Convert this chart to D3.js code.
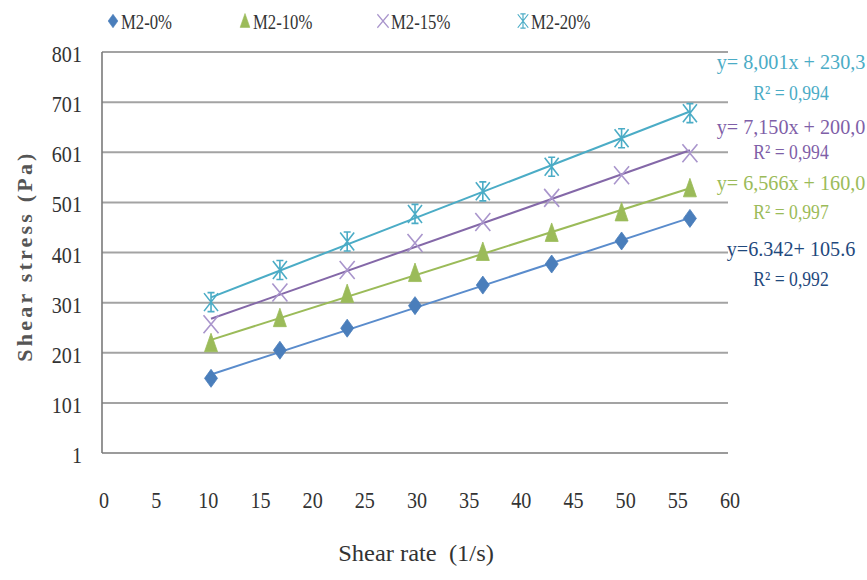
<!DOCTYPE html>
<html><head><meta charset="utf-8">
<script src="https://cdn.jsdelivr.net/npm/d3@7"></script>
<style>body{margin:0;background:#fff}svg{display:block}</style>
</head><body>
<svg id="c" width="867" height="580"></svg>
<script>
const shearRate = [10.45, 17.05, 23.5, 30.0, 36.5, 43.1, 49.8, 56.35];
const seriesNames = ["M2-0%", "M2-10%", "M2-15%", "M2-20%"];
const m2_0  = [150, 206, 250, 295, 336, 378, 424, 469];
const m2_10 = [220, 270, 318, 360, 402, 440, 481, 529];
const m2_15 = [258, 321, 366, 420, 462, 510, 555, 599];
const m2_20 = [302, 366, 423, 478, 523, 572, 629, 679];
const equations = ["y=6.342+ 105.6", "y= 6,566x + 160,0", "y= 7,150x + 200,0", "y= 8,001x + 230,3"];
const r2Labels = ["R² = 0,992", "R² = 0,997", "R² = 0,994", "R² = 0,994"];
const xTicks = [0,5,10,15,20,25,30,35,40,45,50,55,60];
const yTicks = [1,101,201,301,401,501,601,701,801];

const seriesValues = [m2_0, m2_10, m2_15, m2_20];
const styles = [
  {marker:"diamond", mColor:"#4a7ebb", lColor:"#5a8ccc", tColor:"#1f497d"},
  {marker:"triangle", mColor:"#9bbb59", lColor:"#9bbb59", tColor:"#9bbb59"},
  {marker:"x", mColor:"#a995cc", lColor:"#8468a8", tColor:"#7f5fa8"},
  {marker:"star", mColor:"#4bacc6", lColor:"#4bacc6", tColor:"#4bacc6"}
];

const svg = d3.select("#c");
const x = d3.scaleLinear().domain([0,60]).range([102,728]);
const y = d3.scaleLinear().domain([1,801]).range([453,52]);
const serif = "'Liberation Serif','Times New Roman',serif";

function txt(g, s, px, py, size, sx, anchor, fill) {
  return g.append("text")
    .attr("transform", `translate(${px},${py}) scale(${sx},1)`)
    .attr("font-family", serif).attr("font-size", size)
    .attr("text-anchor", anchor).attr("fill", fill)
    .attr("dominant-baseline", "central")
    .style("white-space","pre")
    .text(s);
}

// gridlines
svg.append("g").selectAll("line").data(yTicks.slice(1)).join("line")
  .attr("x1", x(0)).attr("x2", x(60))
  .attr("y1", d=>y(d)).attr("y2", d=>y(d))
  .attr("stroke", "#a3a3a3").attr("stroke-width", 2);

// axes lines
svg.append("line").attr("x1", x(0)).attr("x2", x(0)).attr("y1", y(801)).attr("y2", y(1))
  .attr("stroke", "#7a7a7a").attr("stroke-width", 1.6);
svg.append("line").attr("x1", x(0)).attr("x2", x(60)).attr("y1", y(1)).attr("y2", y(1))
  .attr("stroke", "#7a7a7a").attr("stroke-width", 1.6);

// tick labels
const tg = svg.append("g");
yTicks.forEach(v => txt(tg, String(v), 82, y(v)+2, 24, 0.84, "end", "#333"));
xTicks.forEach(v => txt(tg, String(v), x(v)+2, 500, 24, 0.84, "middle", "#333"));

// axis titles
txt(svg, "Shear rate  (1/s)", 416, 553, 24, 1.02, "middle", "#333");
svg.append("text").attr("transform", "translate(24,256) rotate(-90)")
  .attr("font-family", serif).attr("font-size", 22).attr("font-weight", "bold")
  .attr("letter-spacing", 3.2).attr("text-anchor", "middle").attr("dominant-baseline","central")
  .attr("fill", "#555").text("Shear stress (Pa)");

// marker paths
function markerPath(type) {
  const p = d3.path();
  if (type === "diamond") { p.moveTo(0,-9); p.lineTo(6.5,0); p.lineTo(0,9); p.lineTo(-6.5,0); p.closePath(); }
  else if (type === "triangle") { p.moveTo(0,-10); p.lineTo(6.5,8.5); p.lineTo(-6.5,8.5); p.closePath(); }
  else if (type === "x") { p.moveTo(-7.5,-9); p.lineTo(7.5,9); p.moveTo(7.5,-9); p.lineTo(-7.5,9); }
  else { p.moveTo(-7,-9); p.lineTo(7,9); p.moveTo(7,-9); p.lineTo(-7,9); p.moveTo(0,-10); p.lineTo(0,10);
         p.moveTo(-3.5,-9.5); p.lineTo(3.5,-9.5); p.moveTo(-3.5,9.5); p.lineTo(3.5,9.5); }
  return p.toString();
}
function drawMarker(g, st, cx, cy, scale) {
  const filled = st.marker === "diamond" || st.marker === "triangle";
  g.append("path").attr("d", markerPath(st.marker))
    .attr("transform", `translate(${cx},${cy}) scale(${scale||1})`)
    .attr("fill", filled ? st.mColor : "none")
    .attr("stroke", st.mColor).attr("stroke-width", filled ? 0.8 : 1.6);
}

// series: least-squares trendline + markers
seriesValues.forEach((vals, i) => {
  const st = styles[i];
  const n = vals.length;
  const mx = d3.mean(shearRate), my = d3.mean(vals);
  let sxy = 0, sxx = 0;
  shearRate.forEach((xv, k) => { sxy += (xv-mx)*(vals[k]-my); sxx += (xv-mx)*(xv-mx); });
  const slope = sxy/sxx, icpt = my - slope*mx;
  const x0 = shearRate[0], x1 = shearRate[n-1];
  svg.append("line").attr("x1", x(x0)).attr("y1", y(slope*x0+icpt))
    .attr("x2", x(x1)).attr("y2", y(slope*x1+icpt))
    .attr("stroke", st.lColor).attr("stroke-width", 2);
  const g = svg.append("g");
  vals.forEach((v, k) => drawMarker(g, st, x(shearRate[k]), y(v)));
});

// equations
const eqY = [[249,279],[183,212],[127,152],[62,93]];
seriesValues.forEach((_, i) => {
  txt(svg, equations[i], 791, eqY[i][0], 21, 0.96, "middle", styles[i].tColor);
  txt(svg, r2Labels[i], 791, eqY[i][1], 21, 0.84, "middle", styles[i].tColor);
});

// legend
const legX = [113, 245, 383, 523];
seriesNames.forEach((name, i) => {
  drawMarker(svg, styles[i], legX[i], 21, 0.75);
  txt(svg, name, legX[i]+8, 22, 22, 0.76, "start", "#333");
});
</script>
</body></html>
